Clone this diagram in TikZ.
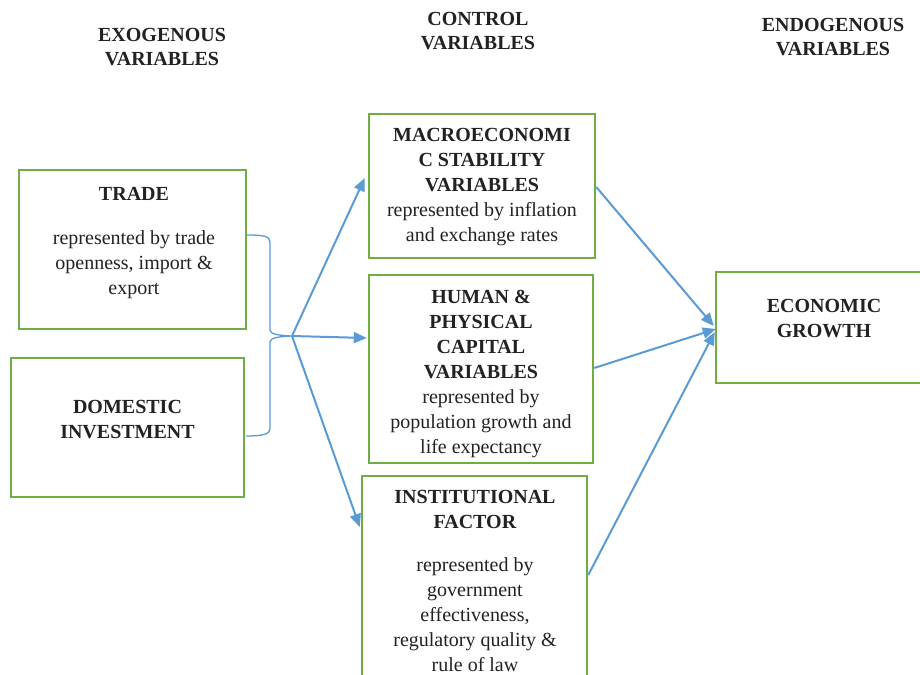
\documentclass[tikz,border=0pt]{standalone}
\usepackage{fontspec}
\setmainfont{Liberation Serif}
\usetikzlibrary{arrows.meta,calc}
\definecolor{boxgreen}{HTML}{70AD47}
\definecolor{arrblue}{HTML}{5B9BD5}
\definecolor{txt}{HTML}{222222}
\tikzset{
  varbox/.style={draw=boxgreen, line width=2.5pt, rectangle, inner sep=0pt},
  lbl/.style={font=\fontsize{20}{25}\selectfont, text=txt, align=center, anchor=north, inner sep=0pt},
  hdr/.style={lbl, font=\fontsize{20}{24.5}\selectfont\bfseries},
  arr/.style={draw=arrblue, line width=2pt, -{Triangle[length=13pt,width=11pt]}},
  bracel/.style={draw=arrblue, line width=1.3pt}
}
\begin{document}
\begin{tikzpicture}[x=1pt,y=-1pt]
\useasboundingbox[fill=white] (0,0) rectangle (920,674);
\begin{scope}
\clip (0,0) rectangle (920,674);
% boxes
\node[varbox, minimum width=227pt, minimum height=159pt] (trade) at (132.5,249.5) {};
\node[varbox, minimum width=233pt, minimum height=139pt] (dom) at (127.5,427.5) {};
\node[varbox, minimum width=226pt, minimum height=144pt] (macro) at (482,186) {};
\node[varbox, minimum width=224pt, minimum height=188pt] (human) at (481,369) {};
\node[varbox, minimum width=225pt, minimum height=224pt] (inst) at (474.5,588) {};
\node[varbox, minimum width=224pt, minimum height=111pt] (econ) at (828,327.5) {};
\end{scope}
% headers
\node[hdr] (hexo) at (162,28) {EXOGENOUS\\VARIABLES};
\node[hdr] (hcon) at (478,12) {CONTROL\\VARIABLES};
\node[hdr] (hend) at (833,18) {ENDOGENOUS\\VARIABLES};
% box texts
\node[lbl] (ttrade) at (134,187.5) {\textbf{TRADE}\\[19pt]represented by trade\\openness, import \&\\export};
\node[lbl] (tdom) at (127.5,400.5) {\textbf{DOMESTIC}\\\textbf{INVESTMENT}};
\node[lbl] (tmacro) at (482,128.5) {\textbf{MACROECONOMI}\\\textbf{C STABILITY}\\\textbf{VARIABLES}\\represented by inflation\\and exchange rates};
\node[lbl] (thuman) at (481,289.5) {\textbf{HUMAN \&}\\\textbf{PHYSICAL}\\\textbf{CAPITAL}\\\textbf{VARIABLES}\\represented by\\population growth and\\life expectancy};
\node[lbl] (tinst) at (475,490.5) {\textbf{INSTITUTIONAL}\\\textbf{FACTOR}\\[18pt]represented by\\government\\effectiveness,\\regulatory quality \&\\rule of law};
\node[lbl] (tecon) at (824,299.5) {\textbf{ECONOMIC}\\\textbf{GROWTH}};
% brace
\coordinate (tip) at (292,336);
\coordinate (bt) at (247,235);
\coordinate (bb) at (246,436);
\draw[bracel] (bt) .. controls (263,235) and (270,236) .. (270,242) -- (270,330)
  .. controls (270,334) and (278,335.5) .. (tip)
  .. controls (278,336.5) and (270,338) .. (270,342) -- (270,429)
  .. controls (270,434) and (263,436) .. (bb);
% arrows
\draw[arr] (tip) -- ($(macro.west)+(-3,-8)$);
\draw[arr] (tip) -- ($(human.west)+(-1,-31)$);
\draw[arr] (tip) -- ($(inst.west)+(-1,-61)$);
\draw[arr] ($(macro.east)+(0,1)$) -- ($(econ.west)+(-1,-1.5)$);
\draw[arr] ($(human.east)+(0,-1)$) -- ($(econ.west)+(1,1.5)$);
\draw[arr] ($(inst.east)+(0,-13)$) -- ($(econ.west)+(0,4.5)$);
\end{tikzpicture}
\end{document}
